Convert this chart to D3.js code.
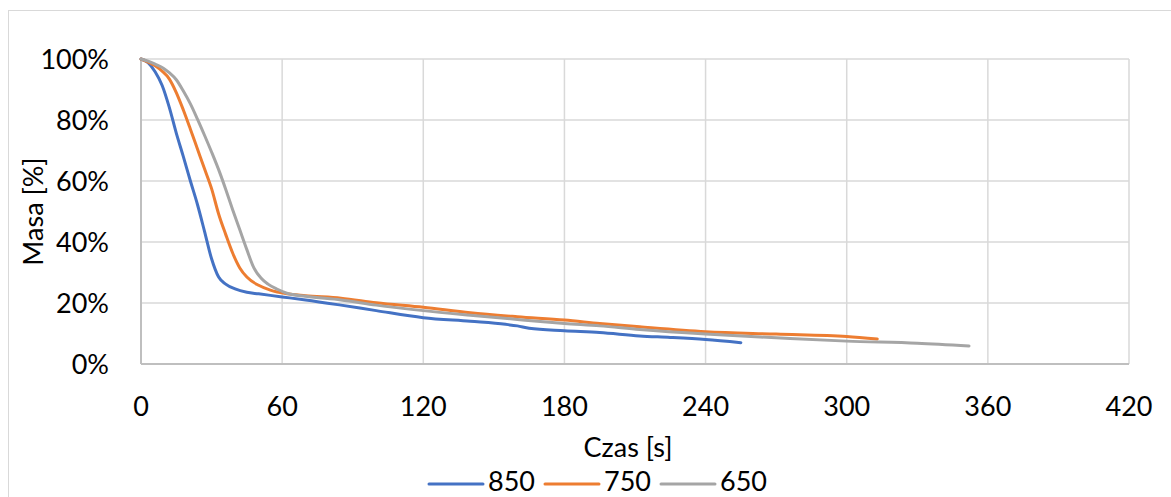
<!DOCTYPE html>
<html>
<head>
<meta charset="utf-8">
<script src="https://cdn.jsdelivr.net/npm/d3@7"></script>
<style>
  html, body { margin: 0; padding: 0; background: #fff; }
  svg { display: block; }
  text { font-family: Lato, "Open Sans", sans-serif; fill: #000; }
</style>
</head>
<body>
<svg id="chart" width="1171" height="497"></svg>
<script>
// Mass loss over time at three furnace temperatures (°C)
const seriesNames = ["850", "750", "650"];
const seriesColors = ["#4472C4", "#ED7D31", "#A5A5A5"];

const time850 = [0, 3, 6, 9, 12, 15, 18, 21, 24, 27, 30, 33, 36, 40, 45, 50, 60, 70, 85, 100, 120, 140, 155, 160, 165, 180, 195, 212, 225, 240, 255];
const mass850 = [1.000, 0.988, 0.958, 0.913, 0.842, 0.757, 0.680, 0.600, 0.523, 0.435, 0.345, 0.285, 0.262, 0.246, 0.235, 0.230, 0.220, 0.210, 0.193, 0.175, 0.152, 0.140, 0.130, 0.125, 0.117, 0.109, 0.103, 0.092, 0.087, 0.080, 0.070];

const time750 = [0, 3, 6, 9, 12, 15, 18, 21, 24, 27, 30, 33, 36, 39, 42, 45, 50, 55, 62, 70, 85, 100, 120, 140, 160, 180, 195, 212, 240, 270, 300, 313];
const mass750 = [1.000, 0.990, 0.978, 0.960, 0.935, 0.890, 0.833, 0.770, 0.705, 0.640, 0.575, 0.492, 0.425, 0.363, 0.315, 0.285, 0.258, 0.242, 0.230, 0.224, 0.216, 0.201, 0.186, 0.168, 0.155, 0.144, 0.133, 0.122, 0.106, 0.098, 0.090, 0.082];

const time650 = [0, 3, 6, 9.5, 12, 15, 18, 21, 24, 27, 30, 33.6, 36, 39, 42, 45, 48, 51, 54, 58, 62, 70, 85, 100, 120, 140, 160, 180, 195, 212, 240, 270, 300, 330, 352];
const mass650 = [1.000, 0.993, 0.983, 0.970, 0.955, 0.932, 0.895, 0.853, 0.803, 0.750, 0.695, 0.625, 0.573, 0.505, 0.440, 0.375, 0.315, 0.282, 0.262, 0.245, 0.232, 0.222, 0.210, 0.193, 0.175, 0.160, 0.146, 0.133, 0.125, 0.113, 0.098, 0.086, 0.075, 0.068, 0.059];

const xTicks = [0, 60, 120, 180, 240, 300, 360, 420];
const yTicks = [0, 0.2, 0.4, 0.6, 0.8, 1.0];
const xTitle = "Czas [s]";
const yTitle = "Masa [%]";

const series = [
  { name: seriesNames[0], color: seriesColors[0], values: time850.map((t, i) => [t, mass850[i]]) },
  { name: seriesNames[1], color: seriesColors[1], values: time750.map((t, i) => [t, mass750[i]]) },
  { name: seriesNames[2], color: seriesColors[2], values: time650.map((t, i) => [t, mass650[i]]) }
];

const svg = d3.select("#chart");
const plot = { left: 141, right: 1129, top: 59, bottom: 364 };
const fontSize = 27;

const x = d3.scaleLinear().domain([0, 420]).range([plot.left, plot.right]);
const y = d3.scaleLinear().domain([0, 1]).range([plot.bottom, plot.top]);

// Outer chart frame
svg.append("rect")
  .attr("x", 8.5).attr("y", 10.5)
  .attr("width", 1180).attr("height", 500)
  .attr("fill", "none").attr("stroke", "#d9d9d9").attr("stroke-width", 1);

// Gridlines
const grid = svg.append("g");
grid.selectAll("line.h").data(yTicks.filter(d => d > 0)).join("line")
  .attr("x1", plot.left).attr("x2", plot.right)
  .attr("y1", d => y(d)).attr("y2", d => y(d))
  .attr("stroke", "#d9d9d9").attr("stroke-width", 1.5);
grid.selectAll("line.v").data(xTicks.filter(d => d > 0)).join("line")
  .attr("y1", plot.top).attr("y2", plot.bottom)
  .attr("x1", d => x(d)).attr("x2", d => x(d))
  .attr("stroke", "#d9d9d9").attr("stroke-width", 1.5);

// Axis lines
svg.append("line")
  .attr("x1", plot.left).attr("x2", plot.left)
  .attr("y1", plot.top).attr("y2", plot.bottom)
  .attr("stroke", "#bfbfbf").attr("stroke-width", 2);
svg.append("line")
  .attr("x1", plot.left).attr("x2", plot.right)
  .attr("y1", plot.bottom).attr("y2", plot.bottom)
  .attr("stroke", "#bfbfbf").attr("stroke-width", 2);

// Tick labels
const pct = d3.format(".0%");
svg.append("g").selectAll("text").data(yTicks).join("text")
  .attr("x", 109).attr("y", d => y(d) + 9.7)
  .attr("text-anchor", "end").attr("font-size", fontSize)
  .text(d => pct(d));
svg.append("g").selectAll("text").data(xTicks).join("text")
  .attr("x", d => x(d)).attr("y", 416)
  .attr("text-anchor", "middle").attr("font-size", fontSize)
  .text(d => d);

// Axis titles
svg.append("text")
  .attr("x", 628).attr("y", 457)
  .attr("text-anchor", "middle").attr("font-size", fontSize)
  .text(xTitle);
svg.append("text")
  .attr("transform", `translate(43, ${(plot.top + plot.bottom) / 2}) rotate(-90)`)
  .attr("text-anchor", "middle").attr("font-size", fontSize)
  .text(yTitle);

// Series lines
const line = d3.line()
  .x(d => x(d[0]))
  .y(d => y(d[1]))
  .curve(d3.curveMonotoneX);

svg.append("g").selectAll("path").data(series).join("path")
  .attr("d", d => line(d.values))
  .attr("fill", "none")
  .attr("stroke", d => d.color)
  .attr("stroke-width", 3)
  .attr("stroke-linejoin", "round")
  .attr("stroke-linecap", "round");

// Legend along the bottom edge
const legendX = [429, 545, 661];
const legend = svg.append("g").selectAll("g").data(series).join("g")
  .attr("transform", (d, i) => `translate(${legendX[i]}, 484)`);
legend.append("line")
  .attr("x1", 0).attr("x2", 54).attr("y1", 0).attr("y2", 0)
  .attr("stroke", d => d.color).attr("stroke-width", 3)
  .attr("stroke-linecap", "round");
legend.append("text")
  .attr("x", 59).attr("y", 7)
  .attr("font-size", fontSize)
  .text(d => d.name);
</script>
</body>
</html>
